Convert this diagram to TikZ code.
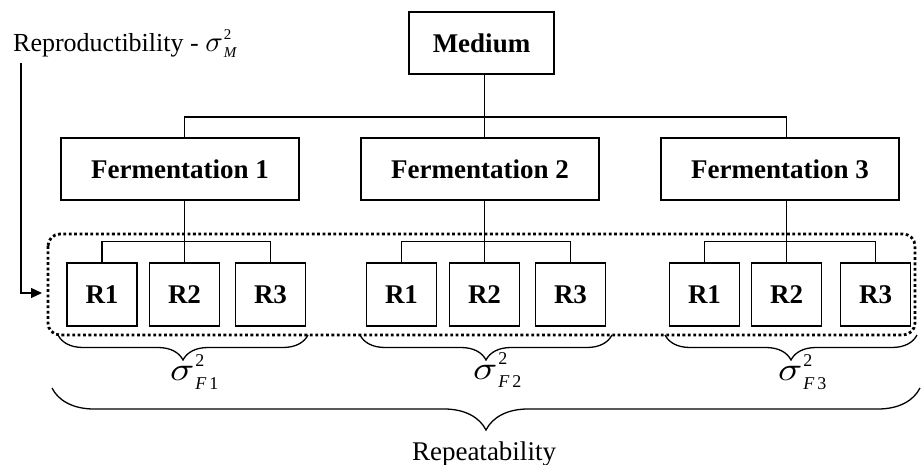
\documentclass[tikz,border=0pt]{standalone}
\usepackage{graphicx}
\usepackage{fontspec}
\setmainfont{Liberation Serif}
\usetikzlibrary{arrows.meta,decorations.pathreplacing}
\tikzset{
  box/.style={draw,line width=1.2pt,inner sep=0pt,font=\fontsize{27}{32}\selectfont\bfseries},
  fbox/.style={box,minimum width=238pt,minimum height=62pt},
  rbox/.style={box,minimum width=70pt,minimum height=63pt},
  conn/.style={line width=1.2pt},
  brc/.style={line width=1.3pt,decorate,decoration={brace,amplitude=#1}},
  lbl/.style={inner sep=0pt,font=\fontsize{27}{32}\selectfont}
}
% #1 x-scale, #2 y-scale, #3 script size, #4 raise, #5 lower, #6 subscript
\newcommand{\sigl}[6]{{\fontsize{10}{10}\selectfont\scalebox{#1}[#2]{$\sigma$}}\kern1pt\rlap{\raisebox{#4}{\fontsize{#3}{#3}\selectfont 2}}\raisebox{-#5}{\fontsize{#3}{#3}\selectfont #6}}
\begin{document}
\begin{tikzpicture}[x=1pt,y=-1pt]
\useasboundingbox (0,0) rectangle (922,465);
% top
\node[box,minimum width=145pt,minimum height=62pt] (M) at (481.5,43) {Medium};
\node[fbox] (F1) at (180,169) {Fermentation 1};
\node[fbox] (F2) at (480,169) {Fermentation 2};
\node[fbox] (F3) at (780,169) {Fermentation 3};
% R boxes
\node[rbox] (A1) at (102,294.5) {R1};
\node[rbox] (A2) at (184.5,294.5) {R2};
\node[rbox] (A3) at (270.5,294.5) {R3};
\node[rbox] (B1) at (401.5,294.5) {R1};
\node[rbox] (B2) at (484.5,294.5) {R2};
\node[rbox] (B3) at (570.5,294.5) {R3};
\node[rbox] (C1) at (704.5,294.5) {R1};
\node[rbox] (C2) at (786.5,294.5) {R2};
\node[rbox] (C3) at (875.5,294.5) {R3};
% connectors top
\coordinate (j) at (484.5,117);
\draw[conn] (M.south -| B2.north) -- (F2.north -| B2.north);
\draw[conn] (F1.north -| A2.north) |- (j) -| (F3.north -| C2.north);
% connectors to replicates
\draw[conn] (F1.south -| A2.north) -- (A2.north);
\draw[conn] (A1.north) -- ++(0,-21) -| (A3.north);
\draw[conn] (F2.south -| B2.north) -- (B2.north);
\draw[conn] (B1.north) -- ++(0,-21) -| (B3.north);
\draw[conn] (F3.south -| C2.north) -- (C2.north);
\draw[conn] (C1.north) -- ++(0,-21) -| (C3.north);
% dotted group
\draw[line width=2.8pt,dash pattern=on 2.8pt off 2.6pt,rounded corners=12pt] (48,234) rectangle (915,335);
% reproducibility label and arrow
\node[lbl,anchor=base west] (rep) at (13,52) {\fontsize{26}{30}\selectfont Reproductibility - \sigl{2.9}{2.9}{15}{12pt}{6pt}{\itshape M}};
\coordinate (a0) at (21,63);
\coordinate (a1) at (42,293);
\draw[conn,-{Triangle[length=11pt,width=10pt]}] (a0) |- (a1);
% small braces
\coordinate (b1r) at (308,335); \coordinate (b1l) at (58,335);
\coordinate (b2r) at (612,335); \coordinate (b2l) at (360,335);
\coordinate (b3r) at (917,335); \coordinate (b3l) at (665,335);
\draw[brc=25pt] (b1r) -- (b1l);
\draw[brc=25pt] (b2r) -- (b2l);
\draw[brc=25pt] (b3r) -- (b3l);
\node[lbl,anchor=base west] (s1) at (170,381) {\sigl{4}{3.3}{18}{14pt}{9pt}{\itshape F\,\upshape 1}};
\node[lbl,anchor=base west] (s2) at (473,379) {\sigl{4}{3.3}{18}{14pt}{9pt}{\itshape F\,\upshape 2}};
\node[lbl,anchor=base west] (s3) at (778,381) {\sigl{4}{3.3}{18}{14pt}{9pt}{\itshape F\,\upshape 3}};
% big brace
\coordinate (bbr) at (920,388); \coordinate (bbl) at (52,388);
\draw[brc=42pt] (bbr) -- (bbl);
\node[lbl,anchor=base] (rpt) at (484,460) {Repeatability};
\end{tikzpicture}
\end{document}
